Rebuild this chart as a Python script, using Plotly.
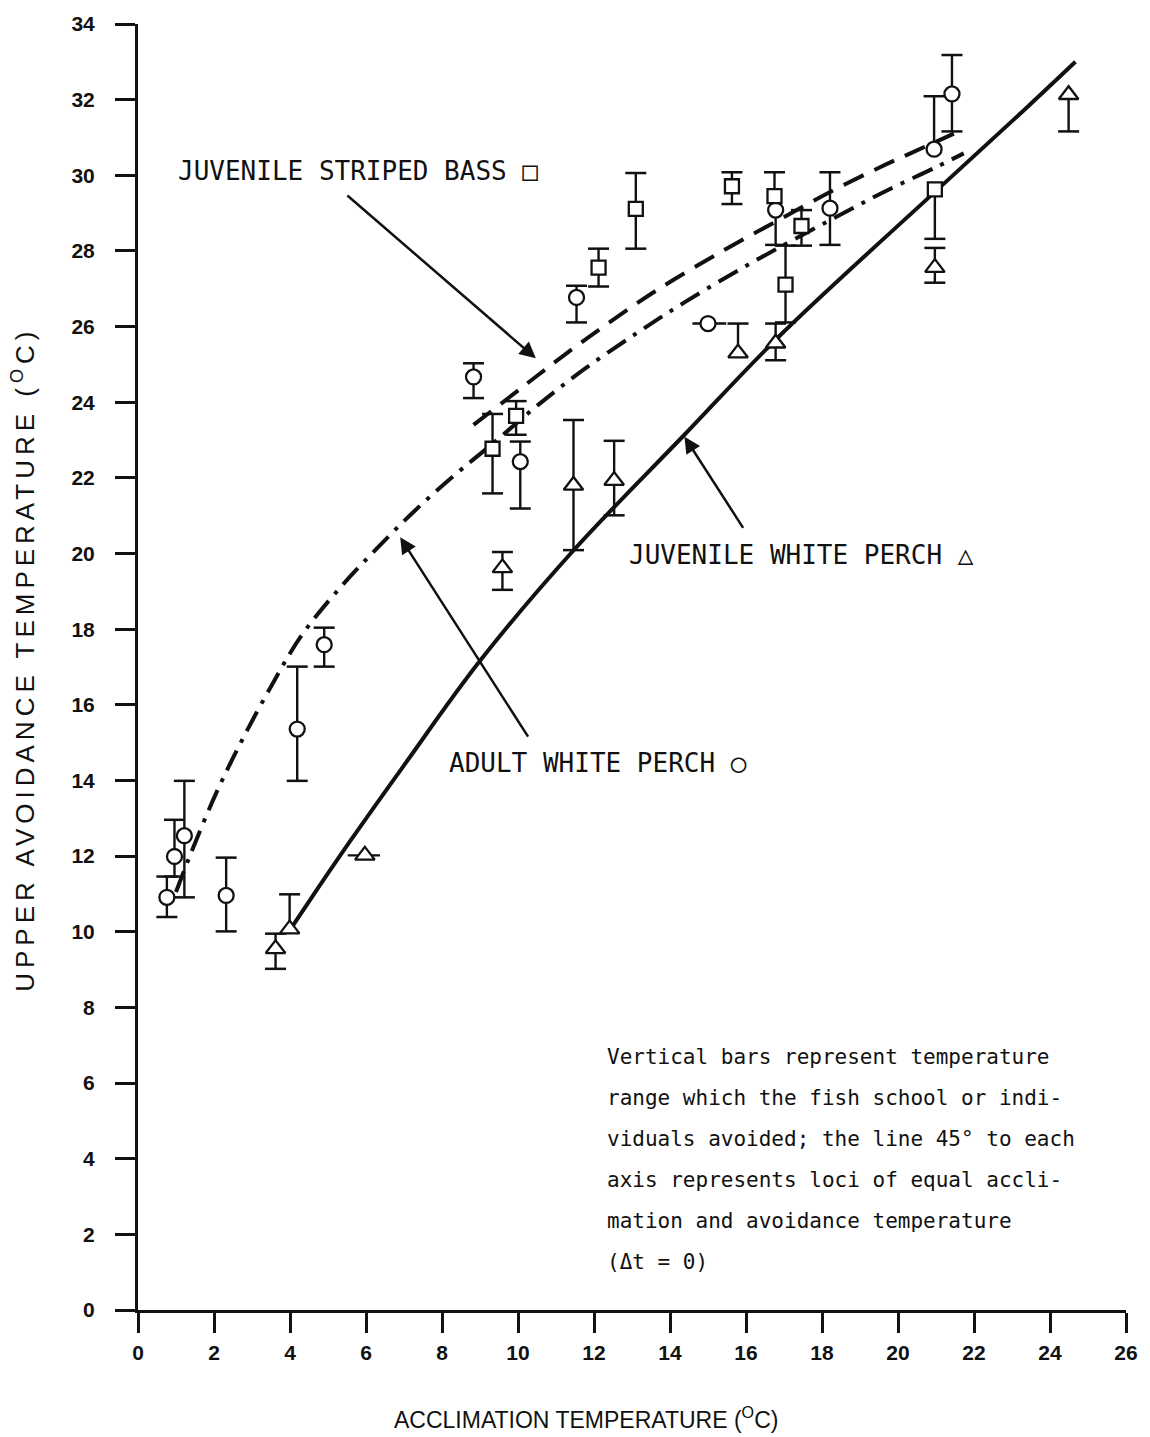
import plotly.graph_objects as go

# ---- Adult white perch (open circles) ----
awp_x = [0.76, 0.96, 1.22, 2.32, 4.19, 4.90, 8.83, 10.06, 11.54, 15.00, 16.78, 18.21, 20.95, 21.42]
awp_y = [10.91, 11.99, 12.54, 10.96, 15.36, 17.59, 24.67, 22.43, 26.77, 26.08, 29.08, 29.13, 30.69, 32.15]
awp_up = [0.55, 0.97, 1.45, 1.00, 1.65, 0.45, 0.36, 0.53, 0.31, 0.00, 0.00, 0.95, 1.40, 1.03]
awp_dn = [0.52, 0.53, 1.63, 0.95, 1.37, 0.58, 0.56, 1.24, 0.66, 0.00, 0.92, 0.97, 0.00, 0.99]
awp_left = [0, 0, 0, 0, 0, 0, 0, 0, 0, 0.41, 0, 0, 0, 0]
awp_right = [0, 0, 0, 0, 0, 0, 0, 0, 0, 0.48, 0, 0, 0, 0]

# ---- Juvenile striped bass (open squares) ----
jsb_x = [9.33, 9.95, 12.12, 13.10, 15.63, 16.75, 17.46, 17.04, 20.97]
jsb_y = [22.77, 23.64, 27.56, 29.11, 29.71, 29.45, 28.66, 27.11, 29.63]
jsb_up = [0.92, 0.39, 0.50, 0.95, 0.37, 0.63, 0.42, 1.03, 0.00]
jsb_dn = [1.18, 0.50, 0.50, 1.05, 0.47, 0.00, 0.52, 1.00, 1.31]

# ---- Juvenile white perch (open triangles) ----
jwp_x = [3.62, 3.99, 5.97, 9.59, 11.46, 12.53, 15.79, 16.78, 20.97, 24.49]
jwp_y = [9.55, 10.07, 12.02, 19.62, 21.80, 21.93, 25.30, 25.56, 27.56, 32.13]
jwp_up = [0.40, 0.92, 0.00, 0.42, 1.73, 1.05, 0.78, 0.52, 0.52, 0.00]
jwp_dn = [0.53, 0.00, 0.00, 0.58, 1.71, 0.92, 0.00, 0.45, 0.40, 0.97]
jwp_left = [0, 0, 0.45, 0, 0, 0, 0, 0, 0, 0]
jwp_right = [0, 0, 0.40, 0, 0, 0, 0, 0, 0, 0]

# ---- Fitted curves ----
awp_curve_x = [1.00, 1.43, 2.06, 2.74, 3.52, 4.30, 5.34, 6.30, 7.27, 8.34, 9.35, 10.53,
               11.78, 13.16, 14.38, 15.87, 17.20, 18.47, 19.67, 20.95, 21.73]
awp_curve_y = [11.05, 12.17, 13.67, 15.07, 16.52, 17.83, 19.12, 20.15, 21.12, 22.08, 22.92, 23.93,
               24.90, 25.85, 26.64, 27.53, 28.27, 28.95, 29.58, 30.19, 30.58]

jsb_curve_x = [8.83, 10.53, 11.26, 12.22, 13.68, 15.35, 16.90, 18.29, 19.50, 20.37, 21.47]
jsb_curve_y = [23.40, 24.72, 25.28, 25.98, 26.98, 27.98, 28.84, 29.60, 30.20, 30.60, 31.10]

jwp_curve_x = [3.96, 4.60, 5.60, 7.00, 8.99, 11.44, 14.38, 16.90, 21.08, 23.42, 24.67]
jwp_curve_y = [9.99, 10.95, 12.42, 14.40, 17.15, 20.06, 23.14, 25.77, 29.66, 31.82, 33.00]

x_ticks = list(range(0, 27, 2))
y_ticks = list(range(0, 35, 2))

INK = "#111111"
MONO = "DejaVu Sans Mono"
SANS = "Liberation Sans"


def caps(xs, ys, up, dn):
    cx, cy = [], []
    for x, y, u, d in zip(xs, ys, up, dn):
        if u > 0:
            cx.append(x)
            cy.append(y + u)
        if d > 0:
            cx.append(x)
            cy.append(y - d)
    return cx, cy


fig = go.Figure()

# curves
fig.add_trace(go.Scatter(x=awp_curve_x, y=awp_curve_y, mode="lines", line_shape="spline",
                         line=dict(color=INK, width=4, dash="22px,9px,4px,9px"), showlegend=False))
fig.add_trace(go.Scatter(x=jsb_curve_x, y=jsb_curve_y, mode="lines", line_shape="spline",
                         line=dict(color=INK, width=4, dash="22px,12px"), showlegend=False))
fig.add_trace(go.Scatter(x=jwp_curve_x, y=jwp_curve_y, mode="lines", line_shape="spline",
                         line=dict(color=INK, width=4), showlegend=False))

# error bar caps
for xs, ys, up, dn in [(awp_x, awp_y, awp_up, awp_dn), (jsb_x, jsb_y, jsb_up, jsb_dn),
                       (jwp_x, jwp_y, jwp_up, jwp_dn)]:
    cx, cy = caps(xs, ys, up, dn)
    fig.add_trace(go.Scatter(x=cx, y=cy, mode="markers", showlegend=False, hoverinfo="skip",
                             marker=dict(symbol="line-ew", size=15,
                                         line=dict(color=INK, width=2.5))))


def err(arr, arrm):
    return dict(type="data", symmetric=False, array=arr, arrayminus=arrm,
                width=0, thickness=2.4, color=INK)


fig.add_trace(go.Scatter(x=awp_x, y=awp_y, mode="markers", name="Adult white perch",
                         error_y=err(awp_up, awp_dn), error_x=err(awp_right, awp_left),
                         marker=dict(symbol="circle", size=15, color="white",
                                     line=dict(color=INK, width=2.3)), showlegend=False))
fig.add_trace(go.Scatter(x=jsb_x, y=jsb_y, mode="markers", name="Juvenile striped bass",
                         error_y=err(jsb_up, jsb_dn),
                         marker=dict(symbol="square", size=14, color="white",
                                     line=dict(color=INK, width=2.3)), showlegend=False))
fig.add_trace(go.Scatter(x=jwp_x, y=jwp_y, mode="markers", name="Juvenile white perch",
                         error_y=err(jwp_up, jwp_dn), error_x=err(jwp_right, jwp_left),
                         marker=dict(symbol="triangle-up", size=17, color="white",
                                     line=dict(color=INK, width=2.3)), showlegend=False))

annotations = []
# series labels
for txt, lx, ly in [("JUVENILE STRIPED BASS □", 0.99, 30.11),
                    ("ADULT WHITE PERCH ○", 8.13, 14.46),
                    ("JUVENILE WHITE PERCH △", 12.87, 19.96)]:
    annotations.append(dict(x=lx, y=ly, xref="x", yref="y", text=txt, showarrow=False,
                            xanchor="left", yanchor="middle",
                            font=dict(family=MONO, size=26, color=INK)))

# pointer arrows from labels to curves
for hx, hy, tx, ty in [(10.47, 25.16, 5.47, 29.50),
                       (6.90, 20.43, 10.29, 15.12),
                       (14.38, 23.09, 15.95, 20.64)]:
    annotations.append(dict(x=hx, y=hy, ax=tx, ay=ty, xref="x", yref="y", axref="x", ayref="y",
                            text="", showarrow=True, arrowhead=2, arrowsize=1.3,
                            arrowwidth=2.5, arrowcolor=INK, standoff=0))

note_lines = ["Vertical bars represent temperature",
              "range which the fish school or indi-",
              "viduals avoided; the line 45° to each",
              "axis represents loci of equal accli-",
              "mation and avoidance temperature",
              "(Δt = 0)"]
note_y0, note_dy = 6.68, 1.08
for i, line in enumerate(note_lines):
    annotations.append(dict(x=12.3, y=note_y0 - i * note_dy, xref="x", yref="y", text=line,
                            showarrow=False, xanchor="left", yanchor="middle",
                            font=dict(family=MONO, size=21, color=INK)))

# axis titles
annotations.append(dict(x=0.453, y=-0.084, xref="paper", yref="paper",
                        text="ACCLIMATION TEMPERATURE (<sup>O</sup>C)", showarrow=False,
                        xanchor="center", yanchor="middle",
                        font=dict(family=SANS, size=23, color=INK)))
annotations.append(dict(x=-0.116, y=0.766, xref="paper", yref="paper", textangle=-90,
                        text=('<span style="letter-spacing:5px">UPPER AVOIDANCE TEMPERATURE '
                              '(<sup>O</sup>C)</span>'),
                        showarrow=False, xanchor="center", yanchor="top",
                        font=dict(family=SANS, size=26, color=INK)))

tick_font = dict(family=SANS, size=21, color=INK, weight="bold")

fig.update_layout(
    width=1150, height=1437,
    margin=dict(l=138, r=14, t=17, b=127),
    paper_bgcolor="white", plot_bgcolor="white",
    showlegend=False,
    annotations=annotations,
    xaxis=dict(range=[0, 26], tickvals=x_ticks, ticks="outside", ticklen=20, tickwidth=2.5,
               tickcolor=INK, showline=True, linewidth=3, linecolor=INK, showgrid=False,
               zeroline=False, tickfont=tick_font, ticklabelstandoff=2),
    yaxis=dict(range=[0, 34], tickvals=y_ticks, ticks="outside", ticklen=20, tickwidth=2.5,
               tickcolor=INK, showline=True, linewidth=3, linecolor=INK, showgrid=False,
               zeroline=False, tickfont=tick_font, ticklabelstandoff=16),
)

fig.write_html("out.html")
